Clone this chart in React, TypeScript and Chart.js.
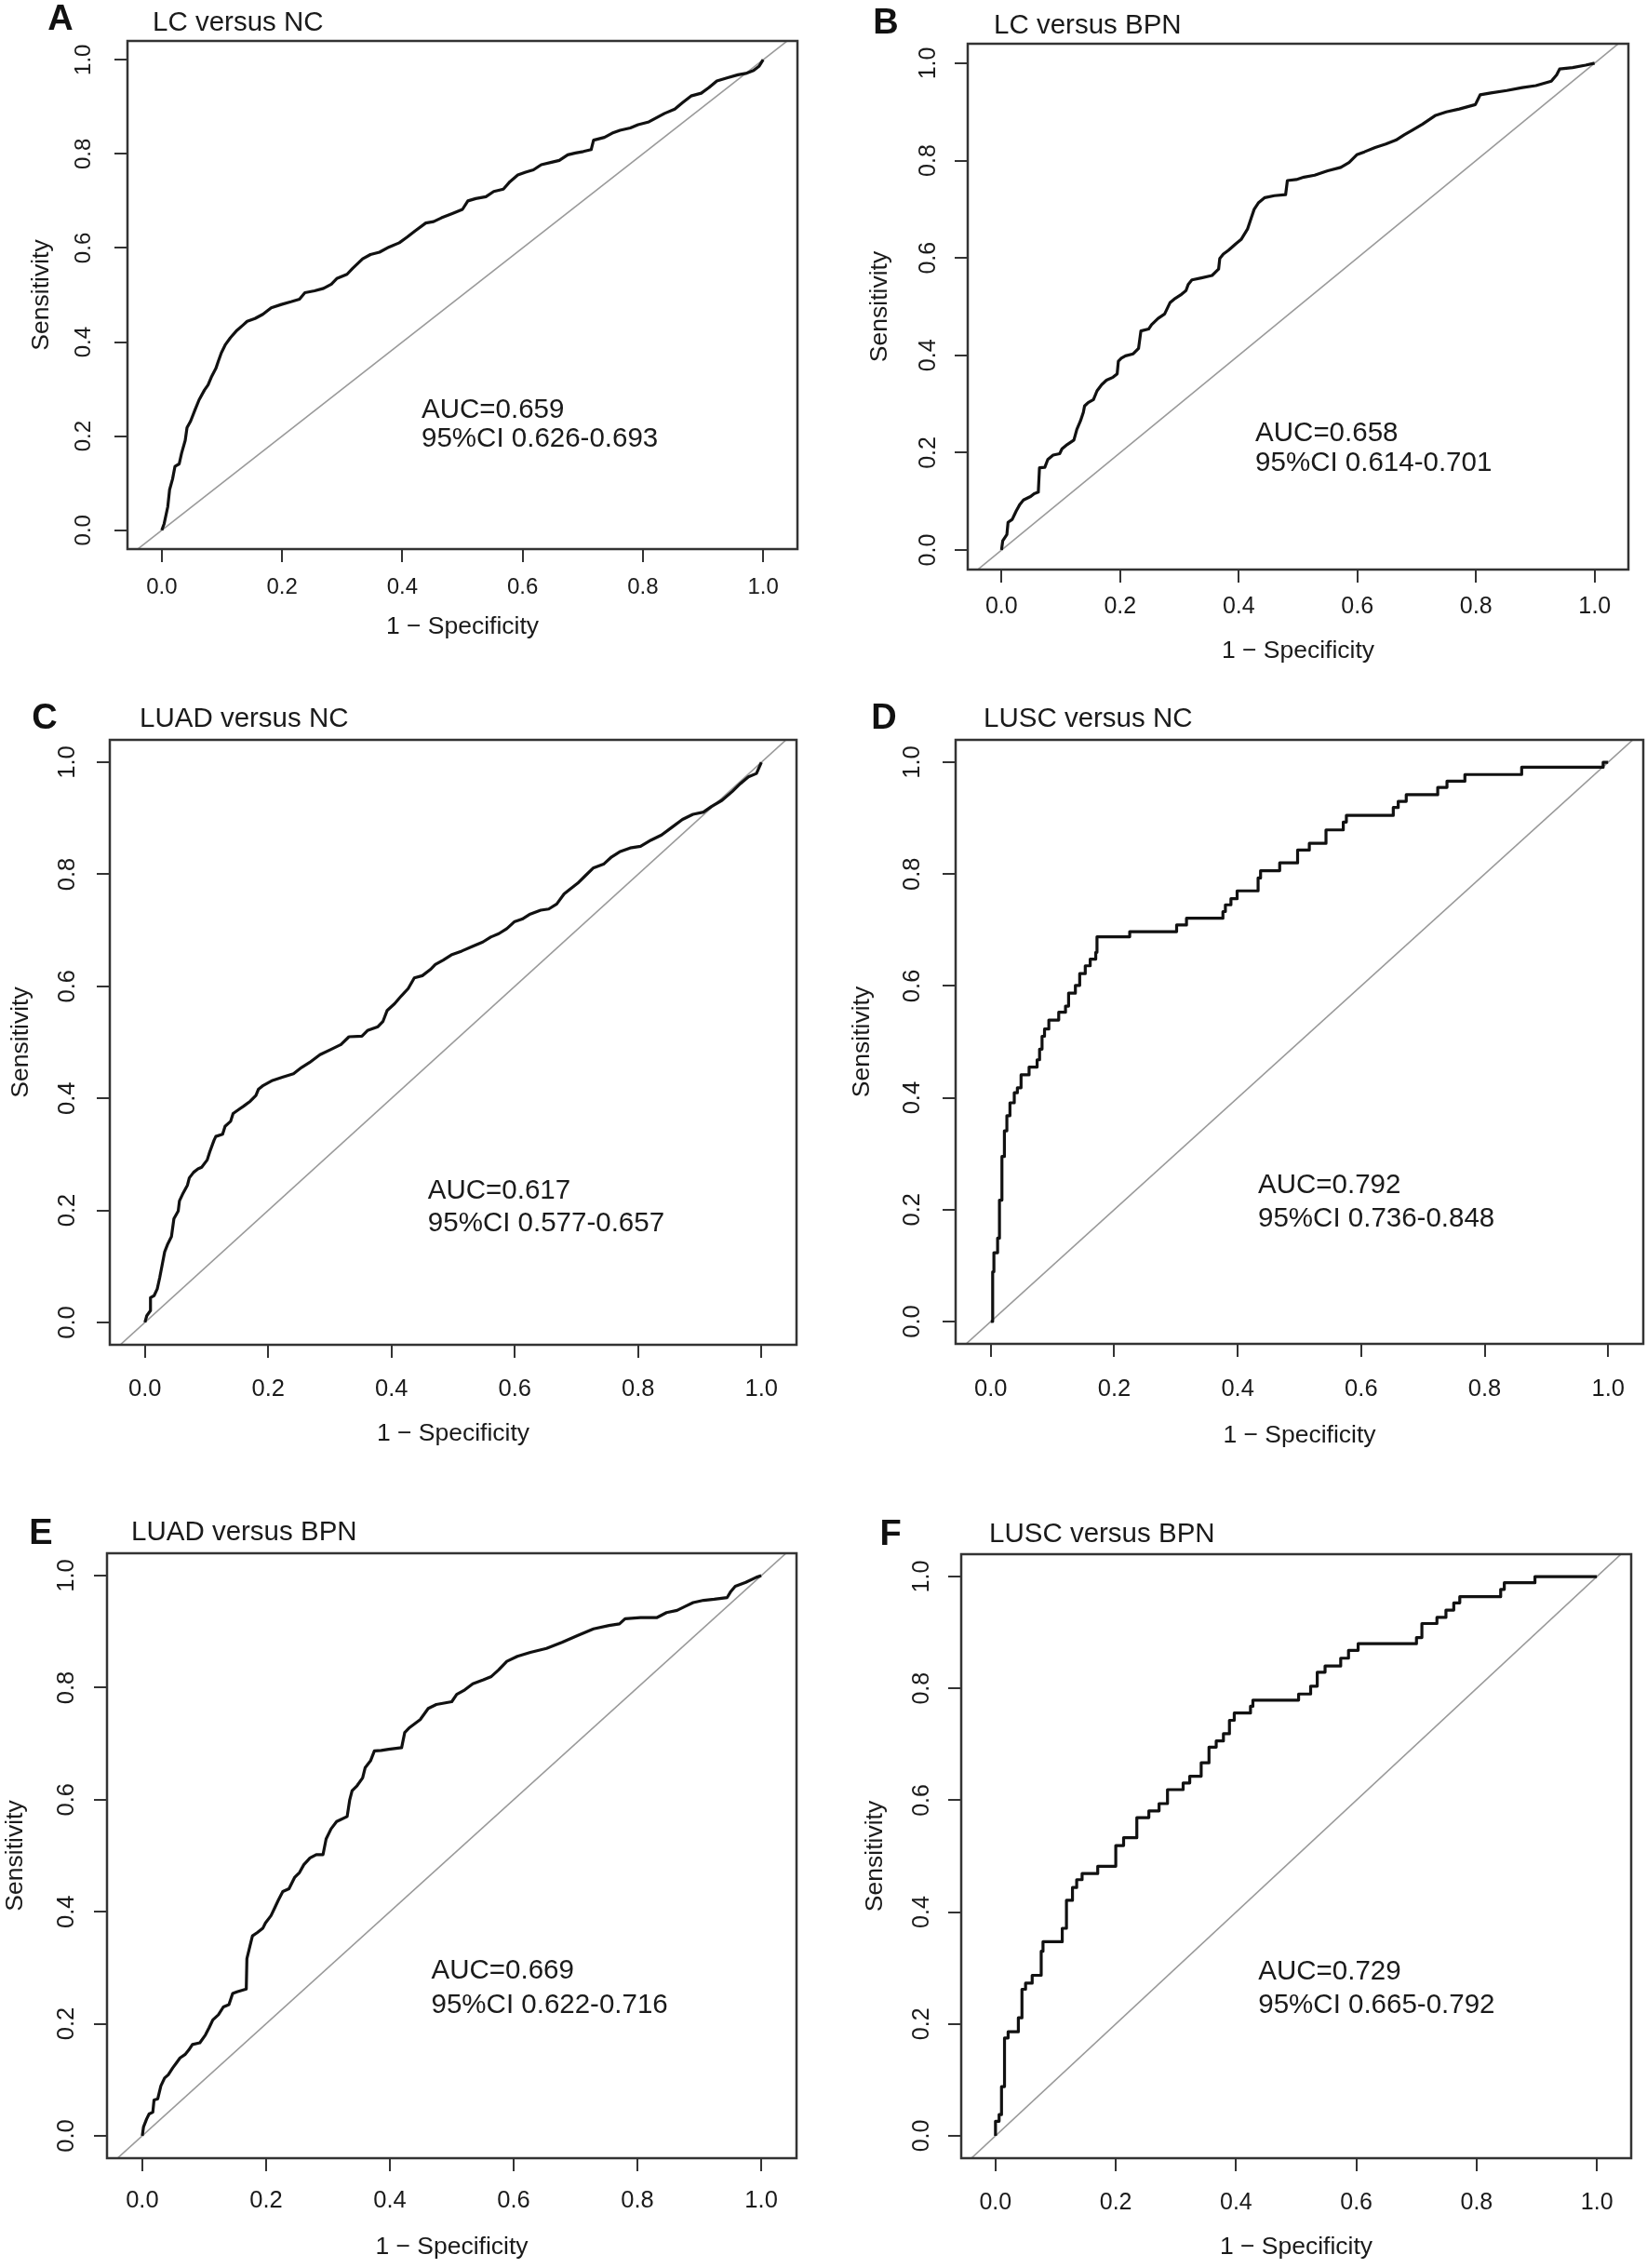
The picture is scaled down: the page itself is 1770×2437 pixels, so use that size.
import React, { useEffect, useRef } from 'react';
import { Chart, registerables } from 'chart.js';

Chart.register(...registerables);

// ---------- data ----------
const TICK_VALUES = [0, 0.2, 0.4, 0.6, 0.8, 1.0];
const TICK_LABELS = ['0.0', '0.2', '0.4', '0.6', '0.8', '1.0'];
const PANEL_LETTERS = ['A', 'B', 'C', 'D', 'E', 'F'];
const PANEL_TITLES = ['LC versus NC', 'LC versus BPN', 'LUAD versus NC', 'LUSC versus NC', 'LUAD versus BPN', 'LUSC versus BPN'];
const AUC_TEXT = ['AUC=0.659', 'AUC=0.658', 'AUC=0.617', 'AUC=0.792', 'AUC=0.669', 'AUC=0.729'];
const CI_TEXT = ['95%CI 0.626-0.693', '95%CI 0.614-0.701', '95%CI 0.577-0.657', '95%CI 0.736-0.848', '95%CI 0.622-0.716', '95%CI 0.665-0.792'];
const X_TITLE = '1 \u2212 Specificity';
const Y_TITLE = 'Sensitivity';
const DIAG_X = [-0.2, 1.2];
const DIAG_Y = [-0.2, 1.2];

const A_X = [0,0.004,0.010,0.013,0.018,0.022,0.029,0.033,0.039,0.042,0.048,0.055,0.062,0.071,0.077,0.083,0.090,0.094,0.099,0.106,0.114,0.125,0.135,0.142,0.155,0.168,0.182,0.199,0.216,0.229,0.238,0.254,0.269,0.282,0.291,0.308,0.317,0.334,0.347,0.362,0.378,0.395,0.408,0.421,0.439,0.452,0.465,0.483,0.500,0.509,0.522,0.539,0.552,0.568,0.579,0.592,0.605,0.618,0.631,0.648,0.661,0.675,0.688,0.701,0.714,0.718,0.736,0.749,0.762,0.779,0.792,0.810,0.823,0.836,0.853,0.866,0.880,0.897,0.910,0.923,0.941,0.958,0.971,0.984,0.993,1];
const A_Y = [0,0.014,0.050,0.086,0.109,0.136,0.141,0.164,0.191,0.218,0.232,0.255,0.277,0.298,0.309,0.327,0.344,0.359,0.377,0.395,0.409,0.425,0.436,0.444,0.450,0.459,0.473,0.480,0.486,0.491,0.505,0.509,0.514,0.523,0.535,0.544,0.556,0.577,0.586,0.591,0.602,0.611,0.623,0.636,0.653,0.656,0.664,0.673,0.682,0.700,0.705,0.709,0.720,0.725,0.741,0.755,0.761,0.766,0.777,0.782,0.786,0.798,0.802,0.805,0.809,0.829,0.835,0.844,0.850,0.855,0.862,0.868,0.877,0.886,0.895,0.909,0.923,0.929,0.941,0.955,0.962,0.968,0.971,0.977,0.986,1];

const B_X = [0,0.002,0.009,0.011,0.018,0.025,0.031,0.037,0.049,0.055,0.062,0.064,0.073,0.078,0.087,0.098,0.102,0.111,0.122,0.127,0.133,0.138,0.140,0.146,0.155,0.161,0.169,0.177,0.188,0.195,0.197,0.202,0.209,0.222,0.231,0.235,0.248,0.253,0.264,0.275,0.284,0.293,0.302,0.311,0.315,0.321,0.337,0.355,0.366,0.368,0.374,0.383,0.395,0.404,0.415,0.421,0.426,0.433,0.444,0.460,0.479,0.482,0.497,0.510,0.528,0.550,0.572,0.586,0.599,0.612,0.630,0.648,0.665,0.679,0.692,0.710,0.732,0.750,0.772,0.799,0.807,0.825,0.852,0.878,0.901,0.927,0.936,0.941,0.963,0.985,1];
const B_Y = [0,0.019,0.032,0.057,0.063,0.081,0.094,0.103,0.110,0.116,0.119,0.169,0.170,0.186,0.195,0.198,0.208,0.217,0.226,0.248,0.265,0.283,0.296,0.303,0.309,0.327,0.340,0.349,0.355,0.362,0.388,0.394,0.399,0.403,0.414,0.450,0.454,0.463,0.476,0.485,0.508,0.517,0.524,0.533,0.546,0.555,0.559,0.564,0.577,0.599,0.608,0.616,0.629,0.638,0.660,0.682,0.700,0.713,0.724,0.728,0.730,0.759,0.761,0.766,0.770,0.779,0.786,0.796,0.812,0.818,0.827,0.834,0.842,0.853,0.862,0.875,0.893,0.900,0.906,0.915,0.935,0.939,0.944,0.950,0.954,0.963,0.976,0.988,0.991,0.996,1];

const C_X = [0,0.003,0.009,0.009,0.015,0.020,0.024,0.028,0.032,0.037,0.043,0.047,0.054,0.056,0.062,0.069,0.072,0.079,0.086,0.092,0.101,0.105,0.112,0.115,0.126,0.130,0.139,0.143,0.152,0.160,0.171,0.180,0.184,0.192,0.207,0.224,0.241,0.254,0.267,0.284,0.301,0.318,0.331,0.352,0.361,0.378,0.386,0.393,0.405,0.416,0.427,0.437,0.450,0.463,0.471,0.484,0.497,0.514,0.531,0.548,0.561,0.574,0.587,0.599,0.612,0.625,0.642,0.655,0.668,0.680,0.689,0.702,0.714,0.727,0.744,0.757,0.770,0.787,0.804,0.821,0.838,0.855,0.872,0.889,0.906,0.919,0.936,0.953,0.966,0.979,0.992,1];
const C_Y = [0,0.012,0.021,0.044,0.048,0.060,0.080,0.103,0.126,0.140,0.153,0.185,0.199,0.217,0.231,0.245,0.258,0.268,0.274,0.277,0.290,0.304,0.325,0.332,0.336,0.350,0.359,0.373,0.380,0.386,0.395,0.405,0.416,0.423,0.432,0.438,0.444,0.455,0.464,0.478,0.487,0.496,0.510,0.511,0.521,0.528,0.537,0.557,0.569,0.583,0.596,0.615,0.619,0.630,0.639,0.647,0.656,0.663,0.671,0.679,0.688,0.694,0.703,0.715,0.720,0.729,0.736,0.738,0.747,0.765,0.773,0.784,0.797,0.811,0.818,0.831,0.840,0.847,0.850,0.861,0.870,0.884,0.898,0.907,0.911,0.921,0.932,0.948,0.962,0.974,0.980,1];

const D_X = [0,0.003,0.005,0.011,0.014,0.018,0.022,0.026,0.031,0.038,0.043,0.049,0.062,0.075,0.079,0.083,0.087,0.094,0.110,0.121,0.126,0.137,0.144,0.153,0.161,0.170,0.172,0.225,0.301,0.317,0.376,0.380,0.389,0.399,0.433,0.437,0.468,0.497,0.516,0.543,0.571,0.576,0.652,0.660,0.673,0.724,0.739,0.768,0.860,0.992,1];
const D_Y = [0,0.089,0.123,0.149,0.217,0.295,0.341,0.368,0.391,0.409,0.418,0.441,0.455,0.468,0.487,0.510,0.523,0.539,0.553,0.564,0.587,0.601,0.622,0.636,0.648,0.660,0.688,0.697,0.709,0.721,0.733,0.745,0.756,0.770,0.793,0.806,0.820,0.843,0.855,0.879,0.893,0.905,0.919,0.930,0.942,0.955,0.966,0.978,0.991,1,1];

const E_X = [0,0.002,0.007,0.011,0.017,0.019,0.025,0.030,0.036,0.042,0.049,0.055,0.061,0.069,0.075,0.081,0.093,0.102,0.108,0.114,0.123,0.131,0.140,0.146,0.153,0.168,0.169,0.174,0.178,0.186,0.195,0.199,0.208,0.214,0.220,0.227,0.237,0.246,0.254,0.261,0.271,0.281,0.292,0.297,0.305,0.314,0.331,0.335,0.339,0.347,0.356,0.360,0.369,0.375,0.386,0.398,0.419,0.424,0.432,0.449,0.462,0.475,0.500,0.508,0.521,0.534,0.551,0.564,0.576,0.589,0.606,0.627,0.653,0.678,0.703,0.729,0.754,0.771,0.780,0.805,0.831,0.847,0.864,0.877,0.890,0.907,0.924,0.945,0.951,0.958,0.975,0.992,1];
const E_Y = [0,0.016,0.030,0.039,0.042,0.064,0.066,0.089,0.103,0.109,0.121,0.130,0.139,0.145,0.153,0.163,0.166,0.180,0.193,0.207,0.216,0.230,0.234,0.254,0.257,0.262,0.316,0.339,0.357,0.363,0.371,0.380,0.393,0.407,0.421,0.436,0.441,0.461,0.470,0.484,0.496,0.502,0.502,0.530,0.548,0.561,0.570,0.599,0.616,0.625,0.639,0.657,0.670,0.687,0.688,0.690,0.693,0.720,0.729,0.743,0.763,0.770,0.775,0.788,0.796,0.807,0.814,0.820,0.832,0.847,0.856,0.863,0.870,0.881,0.893,0.905,0.911,0.914,0.923,0.925,0.925,0.934,0.938,0.945,0.952,0.956,0.958,0.961,0.972,0.981,0.988,0.997,1];

const F_X = [0,0,0.006,0.010,0.015,0.021,0.038,0.044,0.050,0.061,0.076,0.079,0.111,0.118,0.128,0.135,0.144,0.170,0.200,0.213,0.235,0.255,0.272,0.286,0.312,0.323,0.342,0.355,0.367,0.379,0.389,0.397,0.424,0.428,0.504,0.524,0.535,0.548,0.574,0.587,0.603,0.700,0.709,0.734,0.749,0.762,0.772,0.840,0.846,0.897,1];
const F_Y = [0,0.026,0.038,0.088,0.175,0.186,0.211,0.262,0.273,0.287,0.330,0.347,0.371,0.421,0.444,0.458,0.469,0.482,0.519,0.533,0.569,0.581,0.594,0.619,0.631,0.643,0.667,0.695,0.706,0.719,0.743,0.756,0.768,0.779,0.790,0.804,0.829,0.840,0.854,0.868,0.880,0.891,0.916,0.927,0.940,0.953,0.964,0.977,0.989,1,1];

const CURVES_X = [A_X, B_X, C_X, D_X, E_X, F_X];
const CURVES_Y = [A_Y, B_Y, C_Y, D_Y, E_Y, F_Y];

// ---------- layout (positions / sizes / styles) ----------
const FONT = '"Liberation Sans", Arial, Helvetica, sans-serif';
const AXIS_TITLE_SIZE = 26.5;
const TICK_LEN = 14;
const X_MIN = -0.057, X_MAX = 1.057, Y_MIN = -0.04, Y_MAX = 1.04;

type Lay = {
  canvas: number[]; box: number[]; letter: number[]; title: number[];
  sensOff: number; yTickOff: number; xTickOff: number; xlabOff: number;
  auc: number[]; tickSize: number; stepped: boolean;
};

const LAYOUT: Lay[] = [
  { canvas: [0, 0, 885, 720], box: [137, 44, 857, 590], letter: [-72, -22], title: [27, -19], sensOff: 92, yTickOff: 47, xTickOff: 41, xlabOff: 84, auc: [0.432, 0.255, 0.194], tickSize: 24, stepped: false },
  { canvas: [885, 0, 885, 720], box: [1040, 47, 1750, 612], letter: [-88, -21], title: [28, -19.5], sensOff: 94, yTickOff: 42, xTickOff: 40, xlabOff: 88, auc: [0.428, 0.239, 0.178], tickSize: 25, stepped: false },
  { canvas: [0, 720, 885, 860], box: [118, 795, 856, 1445], letter: [-70, -22], title: [32, -22], sensOff: 95, yTickOff: 45, xTickOff: 48, xlabOff: 96, auc: [0.459, 0.235, 0.176], tickSize: 25.5, stepped: false },
  { canvas: [885, 720, 885, 860], box: [1027, 795, 1766, 1444], letter: [-77, -22], title: [30, -22], sensOff: 100, yTickOff: 46, xTickOff: 49, xlabOff: 99, auc: [0.433, 0.243, 0.183], tickSize: 25.5, stepped: true },
  { canvas: [0, 1580, 885, 857], box: [115, 1669, 856, 2319], letter: [-71, -20], title: [26, -22], sensOff: 98, yTickOff: 43, xTickOff: 46, xlabOff: 96, auc: [0.467, 0.294, 0.233], tickSize: 25.5, stepped: false },
  { canvas: [885, 1580, 885, 857], box: [1033, 1670, 1753, 2319], letter: [-76, -20], title: [30, -21], sensOff: 92, yTickOff: 42, xTickOff: 48, xlabOff: 96, auc: [0.437, 0.293, 0.233], tickSize: 25, stepped: true },
];

function Panel({ index }: { index: number }) {
  const ref = useRef<HTMLCanvasElement | null>(null);
  const L = LAYOUT[index];
  const [cx, cy, cw, ch] = L.canvas;

  useEffect(() => {
    const canvas = ref.current;
    if (!canvas) return;
    const [bl, bt, br, bb] = L.box;
    const halfTitle = AXIS_TITLE_SIZE / 2;
    const Wy = L.sensOff + 2 + halfTitle;
    const Hx = L.xlabOff + 2 + halfTitle;
    const padding = {
      left: bl - cx - Wy,
      top: bt - cy,
      right: cx + cw - br,
      bottom: cy + ch - bb - Hx,
    };
    const widest = 1.39 * L.tickSize;

    const xs = CURVES_X[index];
    const ys = CURVES_Y[index];
    const n = Math.min(xs.length, ys.length);
    const roc = [] as { x: number; y: number }[];
    for (let k = 0; k < n; k++) roc.push({ x: xs[k], y: ys[k] });
    const diag = DIAG_X.map((x, k) => ({ x, y: DIAG_Y[k] }));

    const textPlugin = {
      id: 'panelText' + index,
      afterDraw(chart: any) {
        const { ctx, chartArea: a, scales } = chart;
        ctx.save();
        ctx.strokeStyle = '#333333';
        ctx.lineWidth = 2.5;
        ctx.strokeRect(a.left, a.top, a.right - a.left, a.bottom - a.top);
        ctx.fillStyle = '#111111';
        ctx.textBaseline = 'middle';
        ctx.textAlign = 'center';
        ctx.font = `bold 38px ${FONT}`;
        ctx.fillText(PANEL_LETTERS[index], a.left + L.letter[0], a.top + L.letter[1]);
        ctx.textAlign = 'left';
        ctx.font = `29.5px ${FONT}`;
        ctx.fillStyle = '#1a1a1a';
        ctx.fillText(PANEL_TITLES[index], a.left + L.title[0], a.top + L.title[1]);
        const ax = scales.x.getPixelForValue(L.auc[0]);
        ctx.fillText(AUC_TEXT[index], ax, scales.y.getPixelForValue(L.auc[1]));
        ctx.fillText(CI_TEXT[index], ax, scales.y.getPixelForValue(L.auc[2]));
        ctx.restore();
      },
    };

    const tickCallback = (v: any) => {
      const k = TICK_VALUES.findIndex((t) => Math.abs(t - Number(v)) < 1e-9);
      return k >= 0 ? TICK_LABELS[k] : '';
    };
    const setTicks = (s: any) => {
      s.ticks = TICK_VALUES.map((v) => ({ value: v }));
    };
    const gridOpts = {
      display: true,
      drawOnChartArea: false,
      drawTicks: true,
      tickLength: TICK_LEN,
      color: '#333333',
      lineWidth: 2,
    };

    const chart = new Chart(canvas, {
      type: 'scatter',
      data: {
        datasets: [
          {
            data: roc,
            showLine: true,
            borderColor: '#111111',
            borderWidth: 3.2,
            pointRadius: 0,
            tension: 0,
            stepped: L.stepped ? 'before' : false,
            borderJoinStyle: 'round',
          } as any,
          {
            data: diag,
            showLine: true,
            borderColor: '#9a9a9a',
            borderWidth: 1.6,
            pointRadius: 0,
            clip: 0,
          } as any,
        ],
      },
      options: {
        animation: false,
        responsive: false,
        devicePixelRatio: 1,
        events: [],
        layout: { padding },
        plugins: { legend: { display: false }, tooltip: { enabled: false }, title: { display: false } },
        scales: {
          x: {
            type: 'linear',
            min: X_MIN,
            max: X_MAX,
            afterBuildTicks: setTicks,
            afterFit: (s: any) => { s.height = Hx; },
            grid: gridOpts,
            border: { display: false },
            ticks: {
              callback: tickCallback,
              autoSkip: false,
              maxRotation: 0,
              minRotation: 0,
              padding: L.xTickOff - TICK_LEN - L.tickSize / 2,
              color: '#1a1a1a',
              font: { family: FONT, size: L.tickSize, lineHeight: 1 },
            },
            title: {
              display: true,
              text: X_TITLE,
              color: '#1a1a1a',
              padding: { top: 2, bottom: 2 },
              font: { family: FONT, size: AXIS_TITLE_SIZE, lineHeight: 1 },
            },
          },
          y: {
            type: 'linear',
            min: Y_MIN,
            max: Y_MAX,
            afterBuildTicks: setTicks,
            afterFit: (s: any) => { s.width = Wy; },
            grid: gridOpts,
            border: { display: false },
            ticks: {
              callback: tickCallback,
              autoSkip: false,
              minRotation: 90,
              maxRotation: 90,
              crossAlign: 'center',
              padding: L.yTickOff - TICK_LEN - widest / 2,
              color: '#1a1a1a',
              font: { family: FONT, size: L.tickSize, lineHeight: 1 },
            },
            title: {
              display: true,
              text: Y_TITLE,
              color: '#1a1a1a',
              padding: { top: 2, bottom: 2 },
              font: { family: FONT, size: AXIS_TITLE_SIZE, lineHeight: 1 },
            },
          },
        },
      } as any,
      plugins: [textPlugin],
    });
    return () => chart.destroy();
  }, [index]);

  return (
    <canvas
      ref={ref}
      width={cw}
      height={ch}
      style={{ position: 'absolute', left: cx, top: cy, width: cw, height: ch }}
    />
  );
}

export default function App() {
  useEffect(() => {
    document.body.style.margin = '0';
    document.body.style.background = '#ffffff';
  }, []);
  return (
    <div style={{ position: 'relative', width: 1770, height: 2437, background: '#ffffff', overflow: 'hidden' }}>
      {LAYOUT.map((_, i) => (
        <Panel key={i} index={i} />
      ))}
    </div>
  );
}
